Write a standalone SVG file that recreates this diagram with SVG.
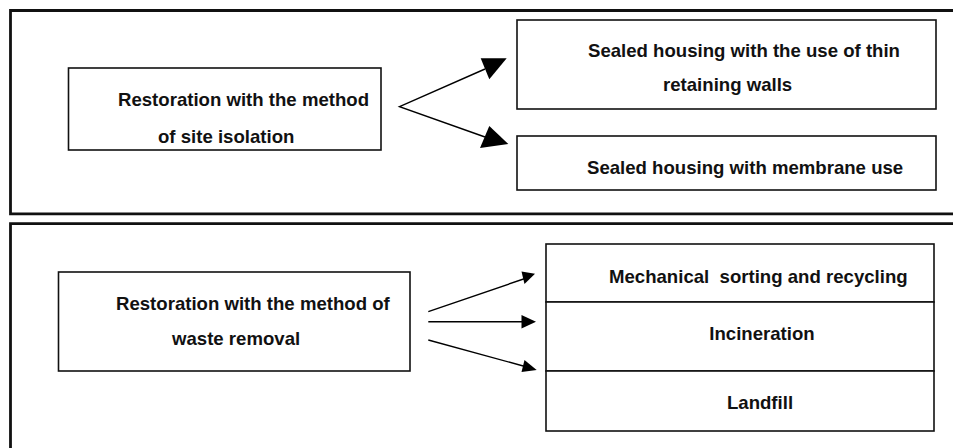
<svg xmlns="http://www.w3.org/2000/svg" width="953" height="448" viewBox="0 0 953 448">
<style>
.frame{fill:none;stroke:#111;stroke-width:2.8}
.box{fill:#fff;stroke:#111;stroke-width:1.6}
.t{font-family:"Liberation Sans",Arial,sans-serif;font-weight:bold;font-size:18.6px;fill:#111}
.c{stroke:#000;stroke-width:1.4;fill:none}
.ah{fill:#000}
</style>
<rect width="953" height="448" fill="#fff"/>
<g id="frame-top"><path class="frame" d="M960 10.5 H10.5 V213.8 H960"/></g>
<g id="frame-bottom"><path class="frame" d="M960 223.6 H10.5 V460"/></g>
<g id="site-isolation"><rect class="box" x="68.5" y="68" width="312.5" height="82"/>
<text class="t" x="118" y="106">Restoration with the method</text>
<text class="t" x="158" y="143">of site isolation</text></g>
<g id="thin-walls"><rect class="box" x="517" y="20" width="419" height="89"/>
<text class="t" x="588" y="57">Sealed housing with the use of thin</text>
<text class="t" x="663" y="91">retaining walls</text></g>
<g id="membrane"><rect class="box" x="517" y="136" width="419" height="54"/>
<text class="t" x="587" y="174">Sealed housing with membrane use</text></g>
<g id="waste-removal"><rect class="box" x="58.5" y="272" width="351.5" height="99"/>
<text class="t" x="116" y="310">Restoration with the method of</text>
<text class="t" x="172" y="345">waste removal</text></g>
<g id="sorting"><rect class="box" x="546" y="244" width="388" height="58"/>
<text class="t" x="609" y="283" xml:space="preserve" style="white-space:pre">Mechanical  sorting and recycling</text></g>
<g id="incineration"><rect class="box" x="546" y="302" width="388" height="69"/>
<text class="t" x="762" y="340" text-anchor="middle">Incineration</text></g>
<g id="landfill"><rect class="box" x="546" y="371" width="388" height="60"/>
<text class="t" x="760" y="409" text-anchor="middle">Landfill</text></g>
<g id="connectors">
<path class="c" d="M485 69 L399.5 106.7 L485 137"/>
<polygon class="ah" points="506.7,58.3 480.7,58.3 489.3,79.3"/>
<polygon class="ah" points="508.3,144 480,148 489.3,126"/>
<path class="c" d="M428.3 311.7 L525 278.5 M428.3 321.7 L525 321.7 M428.3 340 L525 366.5"/>
<polygon class="ah" points="535,273.7 521.5,271.5 524.5,284"/>
<polygon class="ah" points="536,321.7 521.5,315 521.5,328.4"/>
<polygon class="ah" points="536.7,370 524.5,360 521.5,372"/>
</g>
</svg>
